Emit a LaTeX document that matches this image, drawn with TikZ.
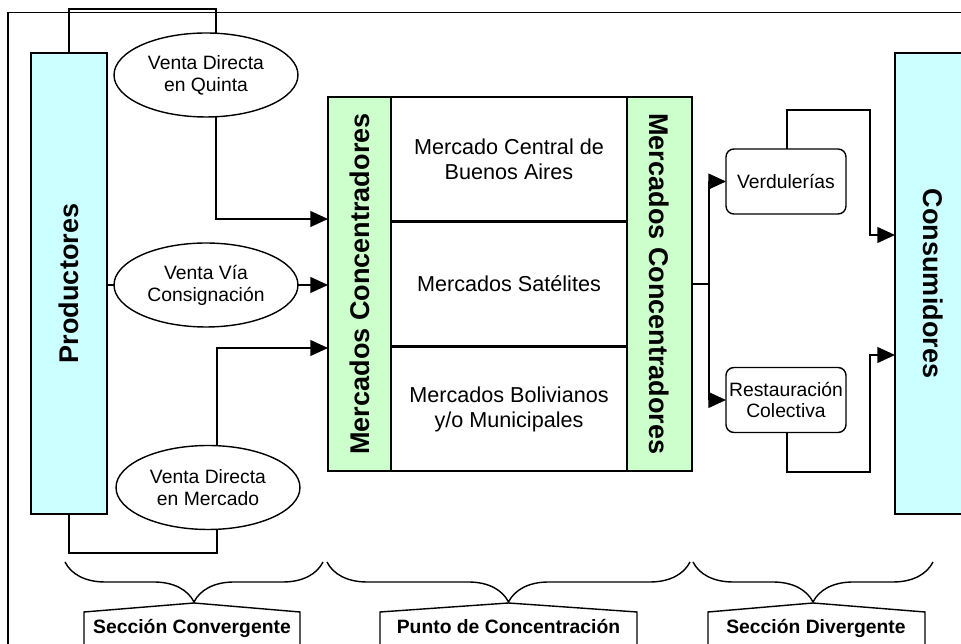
\documentclass[tikz,border=0pt]{standalone}
\usepackage{fontspec}
\setmainfont{Liberation Sans}
\usepackage{graphicx}
\usepackage{xcolor}
\usetikzlibrary{arrows.meta,shapes.geometric,decorations.pathreplacing}
\definecolor{celeste}{HTML}{CCFFFF}
\definecolor{verde}{HTML}{CCFFCC}

\begin{document}
\begin{tikzpicture}[x=0.02cm,y=-0.02cm,line width=0.8pt,>={Triangle[length=10pt,width=9pt]},
	caja/.style={draw,rectangle,inner sep=0pt,outer sep=0pt},
	barra/.style={caja,fill=celeste,minimum width=1.52cm,minimum height=9.22cm,font=\fontsize{15.4}{18}\selectfont\bfseries},
	conc/.style={caja,fill=verde,minimum height=7.48cm,font=\fontsize{15.4}{18}\selectfont\bfseries},
	celda/.style={caja,minimum width=4.72cm,minimum height=2.48cm,align=center,font=\fontsize{12.3}{14.2}\selectfont},
	venta/.style={draw,ellipse,inner sep=0pt,outer sep=0pt,minimum width=3.68cm,minimum height=1.68cm,align=center,font=\fontsize{11}{12.5}\selectfont},
	canal/.style={caja,rounded corners=4.5pt,minimum width=2.4cm,minimum height=1.3cm,align=center,font=\fontsize{11}{12.5}\selectfont},
	seccion/.style={anchor=base,font=\fontsize{11}{13}\selectfont\bfseries},
	llave/.style={decorate,decoration={brace,mirror,amplitude=0.8cm}}]
		\clip (0,0) rectangle (961,644);
		% marco
		\draw (8,660) |- (980,12.7);
		%
		\node[barra] (prod) at (69,283.5) {\rotatebox{90}{Productores}};
		\node[barra] (cons) at (933,283.5) {\rotatebox{-90}{Consumidores}};
		%
		\node[venta] (vq) at (206,75) {Venta Directa\\en Quinta};
		\node[venta] (vc) at (206,285) {Venta Vía\\Consignación};
		\node[venta] (vm) at (208,487.5) {Venta Directa\\en Mercado};
		%
		\node[conc,minimum width=1.26cm] (mc1) at (359.5,284) {\rotatebox{90}{Mercados Concentradores}};
		\node[celda] (mcba) at (509,159) {Mercado Central de\\Buenos Aires};
		\node[celda] (msat) at (509,284) {Mercados Satélites};
		\node[celda] (mbol) at (509,409) {Mercados Bolivianos\\y/o Municipales};
		\node[conc,minimum width=1.3cm] (mc2) at (659.5,284) {\rotatebox{-90}{Mercados Concentradores}};
		%
		\node[canal] (verd) at (786,181.5) {Verdulerías};
		\node[canal] (rest) at (786,400) {Restauración\\Colectiva};
		%
		\coordinate (t1) at (216,9);
		\coordinate (t3) at (217,553);
		\coordinate (h1) at (0,219);
		\coordinate (h3) at (0,348);
		\coordinate (sp) at (709,284);
		\coordinate (v1) at (870,110);
		\coordinate (v2) at (870,472);
		\coordinate (h4) at (0,235);
		\coordinate (h5) at (0,355);
		%
		\draw (prod.north -| 69,0) |- (t1) -- (t1 |- vq.north);
		\draw[->] (t1 |- vq.south) |- (mc1.west |- h1);
		\draw (prod.east |- vc.west) -- (vc.west);
		\draw[->] (vc.east) -- (mc1.west |- vc.east);
		\draw[->] (t3 |- vm.north) |- (mc1.west |- h3);
		\draw (prod.south) |- (t3) -- (t3 |- vm.south);
		%
		\draw (mc2.east |- sp) -- (sp);
		\draw[->] (sp) |- (verd.west);
		\draw[->] (sp) |- (rest.west);
		\draw[->] (verd.north -| 787,0) |- (v1) |- (cons.west |- h4);
		\draw[->] (rest.south -| 787,0) |- (v2) |- (cons.west |- h5);
		%
		\draw[llave] (65,562) -- (323,562);
		\draw[llave] (327,562) -- (690,562);
		\draw[llave] (693,562) -- (933,562);
		\draw (84,660) -- (84,612) -- (194,603) -- (300,612) -- (300,660);
		\draw (380,660) -- (380,612) -- (508.5,603) -- (637,612) -- (637,660);
		\draw (708,660) -- (708,612) -- (813,603) -- (925,612) -- (925,660);
		\node[seccion] (sc) at (192,634) {Sección Convergente};
		\node[seccion] (pc) at (508.5,634) {Punto de Concentración};
		\node[seccion] (sd) at (816,634) {Sección Divergente};
	\end{tikzpicture}
\end{document}
